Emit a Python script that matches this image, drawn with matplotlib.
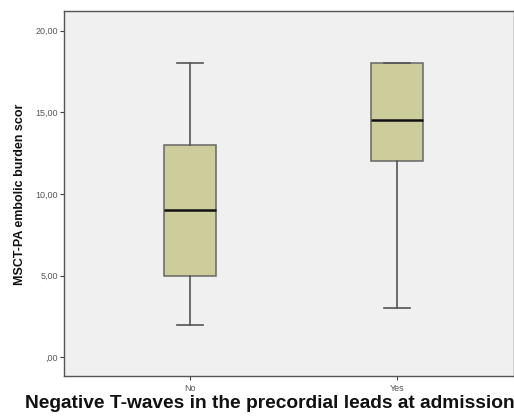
import matplotlib
matplotlib.use("Agg")
import matplotlib.pyplot as plt
from matplotlib.ticker import FixedLocator, FuncFormatter

categories = ["No", "Yes"]
whisker_low = [2.0, 3.0]
q1 = [5.0, 12.0]
median = [9.0, 14.5]
q3 = [13.0, 18.0]
whisker_high = [18.0, 18.0]
y_ticks = [0, 5, 10, 15, 20]

plt.rcParams['font.family'] = ['Liberation Sans', 'DejaVu Sans']

fig = plt.figure(figsize=(5.14, 4.17), dpi=100)
ax = fig.add_axes([64/514, 1-376/417, 1-64/514, (376-11)/417])
ax.set_facecolor('#F0F0F0')

stats = []
for i, c in enumerate(categories):
    stats.append(dict(label=c, whislo=whisker_low[i], q1=q1[i], med=median[i],
                      q3=q3[i], whishi=whisker_high[i], fliers=[]))

ax.bxp(stats, positions=[1, 2], widths=0.25, patch_artist=True, showfliers=False,
       boxprops=dict(facecolor='#CDCC9B', edgecolor='#666666', linewidth=1.1),
       medianprops=dict(color='#111111', linewidth=1.8),
       whiskerprops=dict(color='#555555', linewidth=1.2),
       capprops=dict(color='#555555', linewidth=1.2), capwidths=0.125)

ax.set_xlim(0.39, 2.567)
ax.set_ylim(-1.15, 21.2)
ax.yaxis.set_major_locator(FixedLocator(y_ticks))
ax.yaxis.set_major_formatter(FuncFormatter(lambda v, p: (",00" if v == 0 else f"{int(v)},00")))
ax.tick_params(axis='y', labelsize=6.5, labelcolor='#555555', length=3, width=0.8, color='#444444', pad=1.5)
ax.tick_params(axis='x', labelsize=6.5, labelcolor='#555555', length=3, width=0.8, color='#444444', pad=3)
ax.set_xticks([1, 2])
ax.set_xticklabels(categories)
for s in ax.spines.values():
    s.set_color('#555555')
    s.set_linewidth(1.0)

fig.text(20.5/514, 1-194/417, "MSCT-PA embolic burden scor", fontsize=9, fontweight='bold',
         color='#111111', rotation=90, ha='center', va='center')
fig.text(25/514, 1-404/417, "Negative T-waves in the precordial leads at admission",
         fontsize=13.8, fontweight='bold', color='#111111', ha='left', va='center')

fig.savefig("out.png", dpi=100)
